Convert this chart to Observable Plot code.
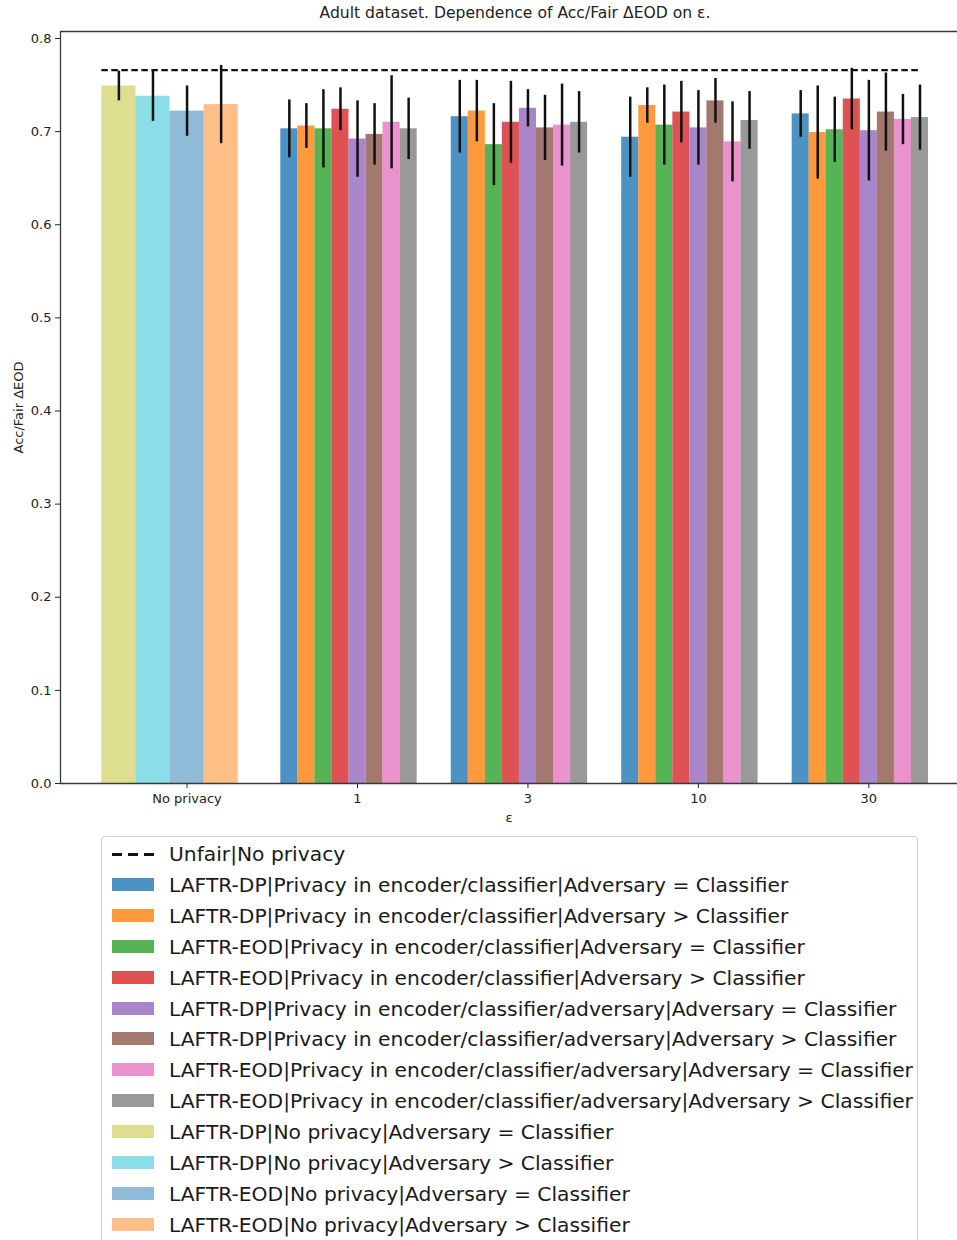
<!DOCTYPE html>
<html>
<head>
<meta charset="utf-8">
<script src="https://cdn.jsdelivr.net/npm/d3@7"></script>
<script src="https://cdn.jsdelivr.net/npm/@observablehq/plot@0.6"></script>
<style>
  body { margin: 0; background: #fff; font-family: "DejaVu Sans", sans-serif; }
  #wrap { position: relative; width: 957px; height: 1240px; overflow: hidden; }
  #title { position: absolute; left: 60px; width: 910px; top: 4px; text-align: center; font-size: 15.6px; color: #222; }
  #legend { position: absolute; left: 101px; top: 836px; width: 817px; height: 420px; border: 1px solid #d0d0d0; border-radius: 4px; box-sizing: border-box; }
  .row { position: absolute; left: 0; height: 30px; display: flex; align-items: center; font-size: 20.25px; color: #1a1a1a; white-space: nowrap; }
  .sw { position: absolute; left: 10px; width: 42px; }
  .lab { position: absolute; left: 67px; }
</style>
</head>
<body>
<div id="wrap">
  <div id="chart"></div>
  <div id="title">Adult dataset. Dependence of Acc/Fair ΔEOD on ε.</div>
  <div id="legend"></div>
</div>
<script>
// ---------- data ----------
const groups = ["No privacy", "1", "3", "10", "30"];
const unfairLabel = "Unfair|No privacy";
const unfairValue = 0.766;

const privSeries = [
  "LAFTR-DP|Privacy in encoder/classifier|Adversary = Classifier",
  "LAFTR-DP|Privacy in encoder/classifier|Adversary > Classifier",
  "LAFTR-EOD|Privacy in encoder/classifier|Adversary = Classifier",
  "LAFTR-EOD|Privacy in encoder/classifier|Adversary > Classifier",
  "LAFTR-DP|Privacy in encoder/classifier/adversary|Adversary = Classifier",
  "LAFTR-DP|Privacy in encoder/classifier/adversary|Adversary > Classifier",
  "LAFTR-EOD|Privacy in encoder/classifier/adversary|Adversary = Classifier",
  "LAFTR-EOD|Privacy in encoder/classifier/adversary|Adversary > Classifier"
];
const noPrivSeries = [
  "LAFTR-DP|No privacy|Adversary = Classifier",
  "LAFTR-DP|No privacy|Adversary > Classifier",
  "LAFTR-EOD|No privacy|Adversary = Classifier",
  "LAFTR-EOD|No privacy|Adversary > Classifier"
];
const privColors = ["#1f77b4", "#ff7f0e", "#2ca02c", "#d62728", "#9467bd", "#8c564b", "#e377c2", "#7f7f7f"];
const noPrivColors = ["#bcbd22", "#17becf", "#1f77b4", "#ff7f0e"];

// No-privacy group: values and error half-widths
const noPrivValues = [0.749, 0.738, 0.722, 0.729];
const noPrivErrors = [0.016, 0.027, 0.027, 0.042];

// Privacy groups (ε = 1, 3, 10, 30): values per series
const eps1Values  = [0.703, 0.706, 0.703, 0.724, 0.692, 0.697, 0.710, 0.703];
const eps1Errors  = [0.031, 0.024, 0.042, 0.023, 0.041, 0.033, 0.050, 0.033];
const eps3Values  = [0.716, 0.722, 0.686, 0.710, 0.725, 0.704, 0.707, 0.710];
const eps3Errors  = [0.039, 0.033, 0.044, 0.044, 0.020, 0.035, 0.044, 0.033];
const eps10Values = [0.694, 0.728, 0.707, 0.721, 0.704, 0.733, 0.689, 0.712];
const eps10Errors = [0.043, 0.019, 0.043, 0.033, 0.040, 0.024, 0.043, 0.031];
const eps30Values = [0.719, 0.699, 0.702, 0.735, 0.701, 0.721, 0.713, 0.715];
const eps30Errors = [0.025, 0.050, 0.035, 0.033, 0.054, 0.042, 0.027, 0.035];

// ---------- build table ----------
const privValues = [eps1Values, eps3Values, eps10Values, eps30Values];
const privErrors = [eps1Errors, eps3Errors, eps10Errors, eps30Errors];
const bars = [];
noPrivValues.forEach((v, k) => {
  const c = (k - 2) * 0.2;
  bars.push({g: 0, x1: c - 0.1, x2: c + 0.1, xc: c, v, e: noPrivErrors[k], color: noPrivColors[k], op: 0.5});
});
privValues.forEach((arr, gi) => {
  const g = gi + 1;
  arr.forEach((v, j) => {
    const c = g + (j - 4) * 0.1;
    bars.push({g, x1: c - 0.05, x2: c + 0.05, xc: c, v, e: privErrors[gi][j], color: privColors[j], op: 0.8});
  });
});
const lineX1 = d3.min(bars, d => d.x1);
const lineX2 = d3.max(bars, d => d.xc);

const xDomain = [-0.7425, 4.52];
const yDomain = [0, 0.8075];
const spine = "#3a3a3a";

const chart = Plot.plot({
  width: 957,
  height: 835,
  marginLeft: 60,
  marginRight: 0,
  marginTop: 31,
  marginBottom: 52,
  style: {fontFamily: "DejaVu Sans", fontSize: "13px", color: "#222", background: "transparent"},
  x: {type: "linear", domain: xDomain},
  y: {domain: yDomain},
  marks: [
    Plot.rectY(bars, {x1: "x1", x2: "x2", y1: 0, y2: "v", fill: "color", fillOpacity: "op"}),
    Plot.ruleX(bars, {x: "xc", y1: d => d.v - d.e, y2: d => d.v + d.e, stroke: "#111", strokeWidth: 2.5}),
    Plot.ruleY([unfairValue], {x1: lineX1, x2: lineX2, stroke: "#111", strokeWidth: 2.2, strokeDasharray: "6.5,3.5"}),
    Plot.ruleX([xDomain[0]], {stroke: spine, strokeWidth: 1.3}),
    Plot.ruleY([yDomain[1]], {stroke: spine, strokeWidth: 1.3}),
    Plot.ruleY([0], {stroke: spine, strokeWidth: 1.3}),
    Plot.axisY({ticks: d3.range(0, 9).map(i => i / 10), tickFormat: d3.format(".1f"), tickSize: 5, tickPadding: 4, fontSize: 13,
      label: "Acc/Fair ΔEOD", labelAnchor: "center", labelOffset: 47, labelArrow: "none"}),
    Plot.axisX({ticks: groups.map((d, i) => i), tickFormat: i => groups[i], tickSize: 5, tickPadding: 5, fontSize: 13,
      label: "ε", labelAnchor: "center", labelOffset: 38, labelArrow: "none"})
  ]
});
document.getElementById("chart").appendChild(chart);

// ---------- legend ----------
const legend = document.getElementById("legend");
const items = [{label: unfairLabel, dashed: true}]
  .concat(privSeries.map((s, i) => ({label: s, color: privColors[i], op: 0.8})))
  .concat(noPrivSeries.map((s, i) => ({label: s, color: noPrivColors[i], op: 0.5})));
items.forEach((it, i) => {
  const row = document.createElement("div");
  row.className = "row";
  row.style.top = (2 + i * 30.9) + "px";
  const sw = document.createElement("div");
  sw.className = "sw";
  if (it.dashed) {
    sw.style.height = "2.6px";
    sw.style.top = "14px";
    sw.style.background = "repeating-linear-gradient(to right, #111 0 10px, transparent 10px 16px)";
  } else {
    sw.style.height = "13px";
    sw.style.top = "8px";
    sw.style.background = it.color;
    sw.style.opacity = it.op;
  }
  const lab = document.createElement("span");
  lab.className = "lab";
  lab.textContent = it.label;
  row.appendChild(sw);
  row.appendChild(lab);
  legend.appendChild(row);
});
</script>
</body>
</html>
